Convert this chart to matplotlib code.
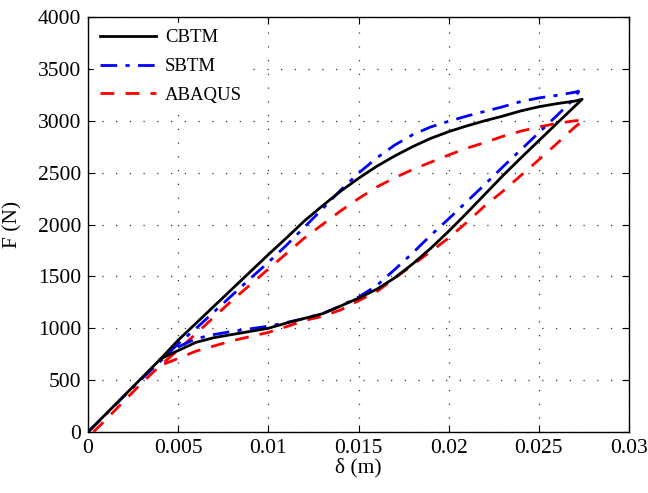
import matplotlib
matplotlib.use("Agg")
import matplotlib.pyplot as plt

plt.rcParams['font.family'] = ['Liberation Serif', 'DejaVu Serif']

# CBTM: loading (upper) branch then unloading (lower) branch
cbtm_x_up = [0, 0.001, 0.002, 0.003, 0.004, 0.005, 0.006, 0.007, 0.008, 0.009, 0.010,
             0.011, 0.012, 0.013, 0.014, 0.015, 0.016, 0.017, 0.018, 0.019, 0.020,
             0.021, 0.022, 0.023, 0.024, 0.025, 0.026, 0.027, 0.0274]
cbtm_y_up = [0, 175, 350, 525, 700, 885, 1050, 1215, 1380, 1545, 1710,
             1870, 2035, 2180, 2320, 2445, 2560, 2660, 2750, 2830, 2895,
             2950, 3000, 3045, 3095, 3135, 3165, 3190, 3207]
cbtm_x_dn = [0.0274, 0.027, 0.026, 0.025, 0.024, 0.023, 0.022, 0.021, 0.020, 0.019,
             0.018, 0.017, 0.016, 0.015, 0.014, 0.013, 0.012, 0.011, 0.010, 0.009,
             0.008, 0.007, 0.006, 0.0055, 0.005, 0.0045, 0.004]
cbtm_y_dn = [3207, 3141, 2975, 2808, 2641, 2470, 2290, 2110, 1935, 1770,
             1620, 1485, 1375, 1290, 1214, 1140, 1095, 1050, 1000, 970,
             940, 910, 865, 825, 785, 745, 700]

# SBTM
sbtm_x_up = [0, 0.001, 0.002, 0.003, 0.004, 0.005, 0.006, 0.007, 0.008, 0.009, 0.010,
             0.011, 0.012, 0.013, 0.014, 0.015, 0.016, 0.017, 0.018, 0.019, 0.020,
             0.021, 0.022, 0.023, 0.024, 0.025, 0.026, 0.027, 0.0272]
sbtm_y_up = [0, 172, 345, 515, 680, 850, 1000, 1160, 1320, 1480, 1635,
             1800, 1975, 2150, 2330, 2495, 2640, 2765, 2865, 2940, 2995,
             3045, 3090, 3135, 3185, 3220, 3245, 3275, 3285]
sbtm_x_dn = [0.0272, 0.027, 0.026, 0.025, 0.024, 0.023, 0.022, 0.021, 0.020, 0.019,
             0.018, 0.017, 0.016, 0.015, 0.014, 0.013, 0.012, 0.011, 0.010, 0.009,
             0.008, 0.007, 0.006, 0.0055, 0.005, 0.0045, 0.004]
sbtm_y_dn = [3280, 3220, 3050, 2885, 2720, 2555, 2385, 2220, 2055, 1895,
             1725, 1565, 1410, 1300, 1215, 1140, 1095, 1055, 1020, 995,
             970, 940, 900, 860, 820, 760, 690]

# ABAQUS
abq_x_up = [0.0003, 0.001, 0.002, 0.003, 0.004, 0.005, 0.006, 0.007, 0.008, 0.009, 0.010,
            0.011, 0.012, 0.013, 0.014, 0.015, 0.016, 0.017, 0.018, 0.019, 0.020,
            0.021, 0.022, 0.023, 0.024, 0.025, 0.026, 0.027, 0.0275]
abq_y_up = [0, 120, 300, 475, 640, 790, 950, 1110, 1270, 1420, 1570,
            1720, 1870, 2000, 2130, 2250, 2360, 2450, 2530, 2600, 2670,
            2735, 2790, 2850, 2900, 2940, 2975, 3000, 3007]
abq_x_dn = [0.0275, 0.027, 0.026, 0.025, 0.024, 0.023, 0.022, 0.021, 0.020, 0.019,
            0.018, 0.017, 0.016, 0.015, 0.014, 0.013, 0.012, 0.011, 0.010, 0.009,
            0.008, 0.007, 0.006, 0.005, 0.004]
abq_y_dn = [3007, 2940, 2780, 2624, 2472, 2320, 2180, 2020, 1870, 1740,
            1610, 1480, 1352, 1265, 1176, 1115, 1075, 1015, 960, 920,
            880, 830, 780, 710, 640]

xticks = [0, 0.005, 0.01, 0.015, 0.02, 0.025, 0.03]
xticklabels = ['0', '0.005', '0.01', '0.015', '0.02', '0.025', '0.03']
yticks = [0, 500, 1000, 1500, 2000, 2500, 3000, 3500, 4000]

fig = plt.figure(figsize=(6.48, 4.93), dpi=100)
ax = fig.add_axes([0.1358, 0.1237, 0.8349, 0.8418])

ax.plot(cbtm_x_up + cbtm_x_dn, cbtm_y_up + cbtm_y_dn, color='black', lw=2.0,
        linestyle='-', label='CBTM', zorder=5)
ax.plot(sbtm_x_up + sbtm_x_dn, sbtm_y_up + sbtm_y_dn, color='#0000ff', lw=2.0,
        linestyle=(0, (6, 3, 1.5, 3)), label='SBTM', zorder=4)
ax.plot(abq_x_up + abq_x_dn, abq_y_up + abq_y_dn, color='#ff0000', lw=2.0,
        linestyle=(0, (5, 4)), label='ABAQUS', zorder=3)

ax.set_xlim(0, 0.03)
ax.set_ylim(0, 4000)
ax.set_xticks(xticks)
ax.set_xticklabels(xticklabels)
ax.set_yticks(yticks)
ax.tick_params(direction='in', top=True, right=True, labelsize=15.5, length=5, width=0.8, pad=5)
ax.grid(True, linestyle=(0, (1, 10)), color='#333333', linewidth=0.9)
for s in ax.spines.values():
    s.set_linewidth(1.0)

ax.set_xlabel('δ (m)', fontsize=15.5, labelpad=0)
ax.set_ylabel('F (N)', fontsize=15.5, labelpad=11)

leg = ax.legend(loc='upper left', fontsize=13.5, frameon=True, fancybox=False,
                edgecolor='white', facecolor='white', framealpha=1.0,
                handlelength=3.0, handletextpad=0.45, borderaxespad=0.3,
                labelspacing=0.62, borderpad=0.35)
leg.set_zorder(10)

fig.savefig('out.png', dpi=100)
